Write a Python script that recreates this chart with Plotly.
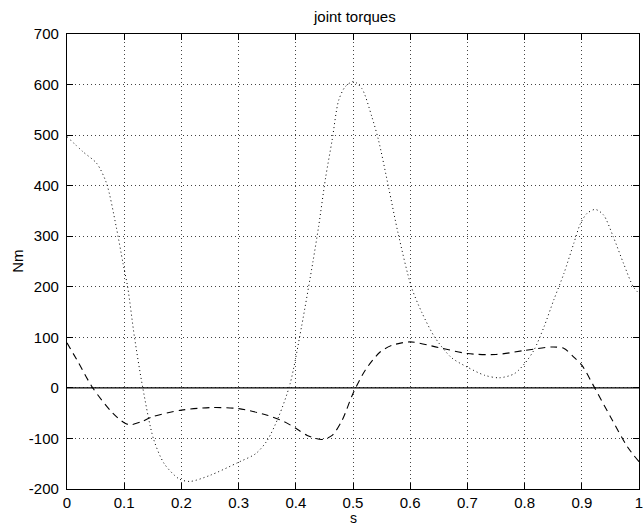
import plotly.graph_objects as go

# Joint torques along the normalised path parameter s
s_joint1 = [0, 0.02, 0.045, 0.08, 0.1, 0.11, 0.13, 0.15, 0.2, 0.25, 0.3, 0.35, 0.38, 0.4,
            0.42, 0.446, 0.4635, 0.481, 0.5, 0.5214, 0.5474, 0.5677, 0.6, 0.649, 0.7, 0.75,
            0.8, 0.85, 0.869, 0.886, 0.9, 0.923, 0.95, 0.98, 1.0]
tau_joint1 = [89, 50, 0, -50, -69, -73, -67, -57, -44, -39, -41, -54, -67, -80,
              -94, -102, -94, -64, -11, 35, 71, 84, 91, 80, 68, 66,
              74, 81, 78, 61, 45, -1, -57, -117, -146]

s_joint2 = [0, 0.028, 0.052, 0.069, 0.086, 0.098, 0.106, 0.118, 0.1325, 0.151, 0.17, 0.196,
            0.215, 0.25, 0.3, 0.33, 0.35, 0.37, 0.39, 0.41, 0.43, 0.44, 0.452, 0.4635, 0.475,
            0.4866, 0.501, 0.5156, 0.533, 0.5446, 0.562, 0.579, 0.602, 0.62, 0.643, 0.672,
            0.70, 0.73, 0.756, 0.782, 0.80, 0.8165, 0.834, 0.851, 0.8686, 0.886, 0.8976,
            0.909, 0.9236, 0.938, 0.955, 0.973, 0.99, 1.0]
tau_joint2 = [497, 467, 444, 405, 319, 246, 200, 100, 0, -100, -150, -180,
              -185, -173, -147, -130, -104, -57, 8, 121, 250, 320, 415, 490, 569,
              596, 606, 592, 536, 490, 398, 305, 200, 150, 100, 60,
              41, 25, 20, 28, 48, 75, 121, 174, 226, 286, 325,
              345, 353, 342, 299, 246, 200, 187]

s_joint3 = [0, 1]
tau_joint3 = [0, 0]

x_ticks = [0, 0.1, 0.2, 0.3, 0.4, 0.5, 0.6, 0.7, 0.8, 0.9, 1]
x_tick_labels = ["0", "0.1", "0.2", "0.3", "0.4", "0.5", "0.6", "0.7", "0.8", "0.9", "1"]
y_ticks = [-200, -100, 0, 100, 200, 300, 400, 500, 600, 700]
y_tick_labels = ["-200", "-100", "0", "100", "200", "300", "400", "500", "600", "700"]

FONT = "Liberation Sans, Arial, Helvetica, sans-serif"
FS = 15

fig = go.Figure()
fig.add_trace(go.Scatter(x=s_joint3, y=tau_joint3, mode="lines",
                         line=dict(color="black", width=1.2), hoverinfo="skip"))
fig.add_trace(go.Scatter(x=s_joint2, y=tau_joint2, mode="lines",
                         line=dict(color="black", width=1, dash="1px,3px", shape="spline",
                                   smoothing=0.8)))
fig.add_trace(go.Scatter(x=s_joint1, y=tau_joint1, mode="lines",
                         line=dict(color="black", width=1.1, dash="7px,5px", shape="spline",
                                   smoothing=0.8)))

axis_common = dict(
    showline=True, linecolor="black", linewidth=1.2, mirror="ticks",
    ticks="inside", ticklen=6, tickcolor="black", tickwidth=1,
    showgrid=True, gridcolor="#444", gridwidth=1, griddash="1px,3px",
    zeroline=False, ticklabeloverflow="allow",
    tickfont=dict(family=FONT, size=FS, color="black"),
)

fig.update_xaxes(range=[0, 1], tickvals=x_ticks, ticktext=x_tick_labels,
                 ticklabelstandoff=0, **axis_common)
fig.update_yaxes(range=[-200, 700], tickvals=y_ticks, ticktext=y_tick_labels,
                 ticklabelstandoff=4, **axis_common)

fig.update_layout(
    width=644, height=527,
    margin=dict(l=67, r=1, t=34, b=38),
    paper_bgcolor="white", plot_bgcolor="white",
    showlegend=False,
    font=dict(family=FONT, size=FS, color="black"),
    title=dict(text="joint torques", x=0.551, xanchor="center",
               y=1 - 17 / 527, yanchor="middle", yref="container",
               font=dict(family=FONT, size=FS, color="black")),
    annotations=[
        dict(text="Nm", xref="paper", yref="paper", x=-(67 - 17) / 576, y=0.5,
             xanchor="center", yanchor="middle", textangle=-90, showarrow=False,
             font=dict(family=FONT, size=FS, color="black")),
        dict(text="s", xref="paper", yref="paper", x=0.5, y=-(527 - 489) / 455,
             xanchor="center", yanchor="bottom", showarrow=False, borderpad=0,
             font=dict(family=FONT, size=14, color="black")),
    ],
)

fig.write_html("out.html")
